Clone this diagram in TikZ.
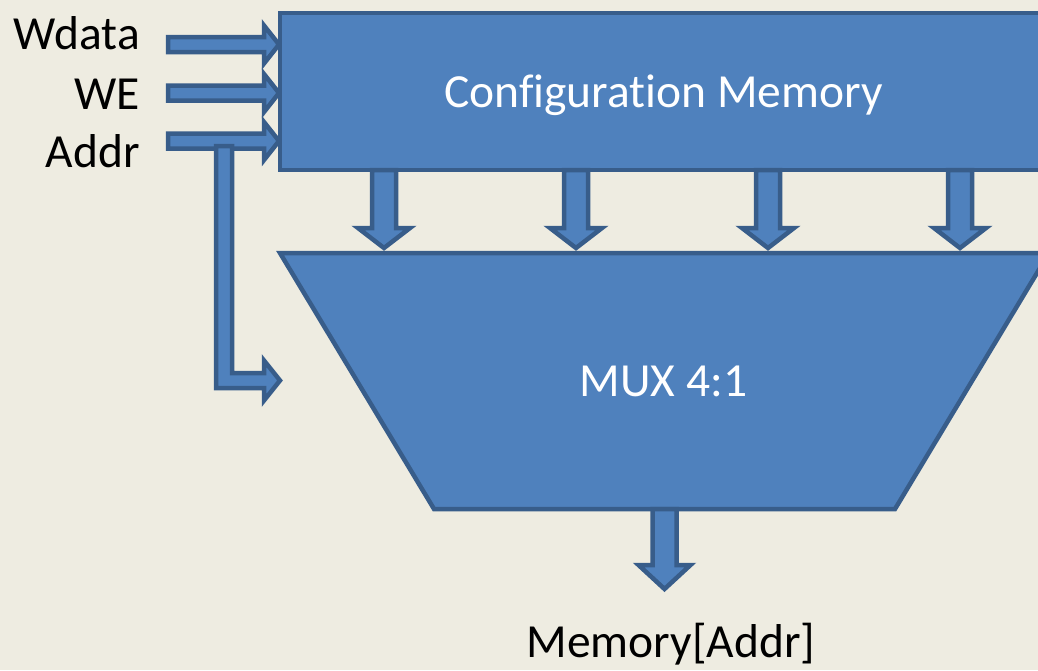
\documentclass[tikz,border=0pt]{standalone}
\usepackage{fontspec}
\setmainfont{Carlito}[Ligatures={NoCommon}]
\usetikzlibrary{calc}
\definecolor{bg}{HTML}{EEECE1}
\definecolor{blockfill}{HTML}{4F81BD}
\definecolor{blockline}{HTML}{385D8A}

\begin{document}
\begin{tikzpicture}[x=1pt,y=-1pt,
  blk/.style={fill=blockfill, draw=blockline, line width=4.5pt},
  txt/.style={font=\fontsize{47.5}{57}\selectfont, inner sep=0pt},
  % block arrow pointing right, from shaft start to tip
  rightarrow/.style={blk, to path={let \p1=(\tikztostart), \p2=(\tikztotarget) in
    (\x1,\y1+7.5pt) -- (\x2-15pt,\y1+7.5pt) -- (\x2-15pt,\y1+19pt) -- (\x2,\y1)
    -- (\x2-15pt,\y1-19pt) -- (\x2-15pt,\y1-7.5pt) -- (\x1,\y1-7.5pt) -- cycle}},
  % block arrow pointing down, head length as argument
  downarrow/.style={blk, to path={let \p1=(\tikztostart), \p2=(\tikztotarget) in
    (\x1-12pt,\y1) -- (\x1+12pt,\y1) -- (\x1+12pt,\y2+#1) -- (\x1+26pt,\y2+#1)
    -- (\x1,\y2) -- (\x1-26pt,\y2+#1) -- (\x1-12pt,\y2+#1) -- cycle}},
  downarrow/.default=20pt,
  % L-shaped block arrow: down from the tap, then right to the tip
  bentarrow/.style={blk, to path={let \p1=(\tikztostart), \p2=(\tikztotarget) in
    (\x1-8pt,\y1) -- (\x1+8pt,\y1) -- (\x1+8pt,\y2+7.5pt) -- (\x2-16pt,\y2+7.5pt)
    -- (\x2-16pt,\y2+20pt) -- (\x2,\y2) -- (\x2-16pt,\y2-20pt) -- (\x2-16pt,\y2-7.5pt)
    -- (\x1-8pt,\y2-7.5pt) -- cycle}}
]
\useasboundingbox (0,0) rectangle (1038,670);
\fill[bg] (0,0) rectangle (1038,670);
\clip (0,0) rectangle (1038,670);

% configuration memory block
\node[blk, rectangle, minimum width=767pt, minimum height=157pt, inner sep=0pt]
  (cfg) at (663.5,91.5) {};
\node[txt, text=white, anchor=base] (cfglabel) at (663.5,107) {Configuration Memory};

% multiplexer
\draw[blk] (280,253) coordinate (muxTL) -- (1049,253) coordinate (muxTR)
  -- (895,509) coordinate (muxBR) -- (434,509) coordinate (muxBL) -- cycle;
\node[txt, text=white, anchor=base] (muxlabel) at (663.5,396) {MUX 4:1};

% input labels
\node[txt, anchor=base east] (wdata) at (140,49) {Wdata};
\node[txt, anchor=base east] (we) at (140,109) {WE};
\node[txt, anchor=base east] (addr) at (140,167) {Addr};
\node[txt, anchor=base] (out) at (671,657) {Memory[Addr]};

% input arrows into the memory
\coordinate (inW) at (168,44.5);  \coordinate (tipW) at (279,44.5);
\coordinate (inE) at (168,93);    \coordinate (tipE) at (279,93);
\coordinate (inA) at (168,141);   \coordinate (tipA) at (279,141);
\draw[rightarrow] (inW) to (tipW);
\draw[rightarrow] (inE) to (tipE);
\draw[rightarrow] (inA) to (tipA);

% address branch to the multiplexer select
\coordinate (tap) at (224,146);
\coordinate (sel) at (280,380.5);
\draw[bentarrow] (tap) to (sel);

% memory outputs into the multiplexer
\foreach \i/\x in {1/384, 2/576, 3/768, 4/960} {
  \coordinate (m\i) at (\x,170);
  \coordinate (d\i) at (\x,248);
  \draw[downarrow] (m\i) to (d\i);
}

% multiplexer output
\coordinate (mo) at (664.5,509);
\coordinate (motip) at (664.5,589);
\draw[downarrow=24pt] (mo) to (motip);
\end{tikzpicture}
\end{document}
